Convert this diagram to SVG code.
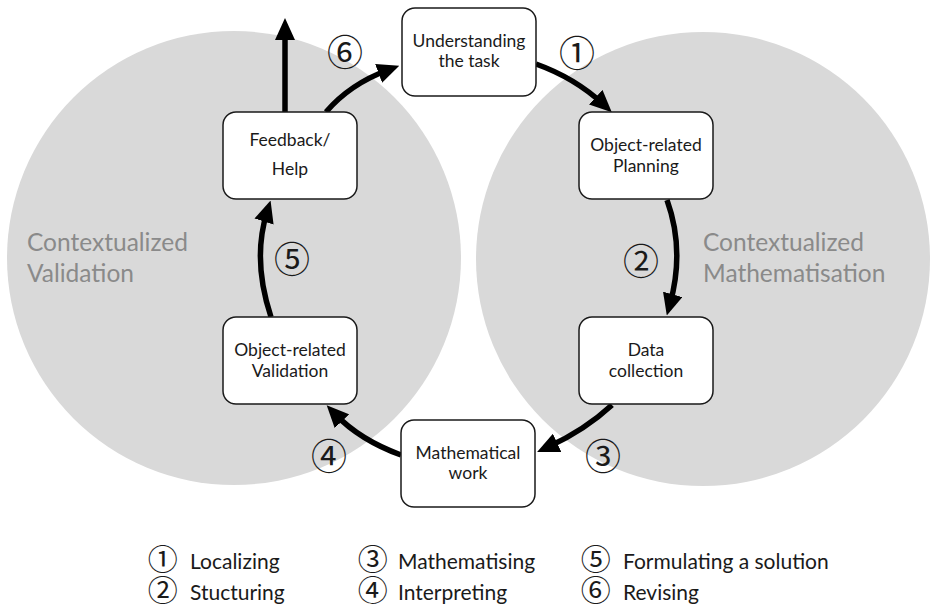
<svg xmlns="http://www.w3.org/2000/svg" width="930" height="606" viewBox="0 0 930 606">
<defs>
<style>
.bg{fill:#d9d9d9}
.box{fill:#fff;stroke:#1a1a1a;stroke-width:1.5}
.t{font-family:Lato,"Open Sans",sans-serif;font-size:17.5px;fill:#1a1a1a;text-anchor:middle}
.big{font-family:Lato,"Open Sans",sans-serif;font-size:24.5px;fill:#8a8a8a}
.lg{font-family:Lato,"Open Sans",sans-serif;font-size:21px;fill:#1a1a1a}
.cn{font-family:"Noto Sans CJK JP",sans-serif;fill:#1a1a1a}
.cl{font-family:"Liberation Sans","Noto Sans CJK JP",sans-serif;font-size:30px;fill:#1a1a1a}
.num{font-size:36px;text-anchor:middle;dominant-baseline:central}
.conn{fill:none;stroke:#000;stroke-width:5.5;marker-end:url(#ah)}
</style>
<marker id="ah" markerUnits="userSpaceOnUse" markerWidth="22" markerHeight="20" refX="10" refY="10" orient="auto" viewBox="0 0 22 20">
<path d="M0,0 L22,10 L0,20 z" fill="#000"/>
</marker>
</defs>
<rect width="930" height="606" fill="#fff"/>
<g id="circles">
<circle class="bg" cx="234" cy="258" r="227"/>
<circle class="bg" cx="703" cy="259" r="227"/>
</g>
<g id="labels">
<text class="big" x="27" y="251">Contextualized</text>
<text class="big" x="27" y="282">Validation</text>
<text class="big" x="703" y="251">Contextualized</text>
<text class="big" x="703" y="282">Mathematisation</text>
</g>
<g id="connectors">
<path class="conn" d="M326,112 Q350,84 388,70"/>
<path class="conn" d="M536,64 Q575,78 603,104"/>
<path class="conn" d="M667,200 Q685,250 670,304"/>
<path class="conn" d="M612,405 Q585,430 548,447"/>
<path class="conn" d="M401,455 Q360,440 335,414"/>
<path class="conn" d="M271,317 Q252,260 267,212"/>
<path class="conn" d="M285,112 L285,30"/>
</g>
<g id="n-understanding">
<rect class="box" x="402" y="8" width="134" height="88" rx="13"/>
<text class="t" x="469" y="47">Understanding</text>
<text class="t" x="469" y="67">the task</text>
</g>
<g id="n-planning">
<rect class="box" x="579" y="112" width="134" height="87" rx="13"/>
<text class="t" x="646" y="151">Object-related</text>
<text class="t" x="646" y="172">Planning</text>
</g>
<g id="n-data">
<rect class="box" x="579" y="317" width="134" height="87" rx="13"/>
<text class="t" x="646" y="356">Data</text>
<text class="t" x="646" y="377">collection</text>
</g>
<g id="n-math">
<rect class="box" x="401" y="420" width="134" height="87" rx="13"/>
<text class="t" x="468" y="459">Mathematical</text>
<text class="t" x="468" y="479">work</text>
</g>
<g id="n-validation">
<rect class="box" x="223" y="317" width="134" height="87" rx="13"/>
<text class="t" x="290" y="356">Object-related</text>
<text class="t" x="290" y="377">Validation</text>
</g>
<g id="n-feedback">
<rect class="box" x="223" y="112" width="134" height="87" rx="13"/>
<text class="t" x="290" y="146">Feedback/</text>
<text class="t" x="290" y="175">Help</text>
</g>
<g id="step-numbers">
<text class="cn num" x="577" y="51">①</text>
<text class="cn num" x="641" y="259">②</text>
<text class="cn num" x="603" y="454">③</text>
<text class="cn num" x="329" y="454">④</text>
<text class="cn num" x="292" y="257">⑤</text>
<text class="cn num" x="345" y="50">⑥</text>
</g>
<g id="legend">
<text class="lg" y="570"><tspan class="cl" x="167" text-anchor="middle">① </tspan><tspan x="190" y="569">Localizing</tspan></text>
<text class="lg" y="601"><tspan class="cl" x="167" text-anchor="middle">② </tspan><tspan x="190" y="600">Stucturing</tspan></text>
<text class="lg" y="570"><tspan class="cl" x="377" text-anchor="middle">③ </tspan><tspan x="398" y="569">Mathematising</tspan></text>
<text class="lg" y="601"><tspan class="cl" x="377" text-anchor="middle">④ </tspan><tspan x="398" y="600">Interpreting</tspan></text>
<text class="lg" y="570"><tspan class="cl" x="600" text-anchor="middle">⑤ </tspan><tspan x="623" y="569">Formulating a solution</tspan></text>
<text class="lg" y="601"><tspan class="cl" x="600" text-anchor="middle">⑥ </tspan><tspan x="623" y="600">Revising</tspan></text>
</g>
</svg>
